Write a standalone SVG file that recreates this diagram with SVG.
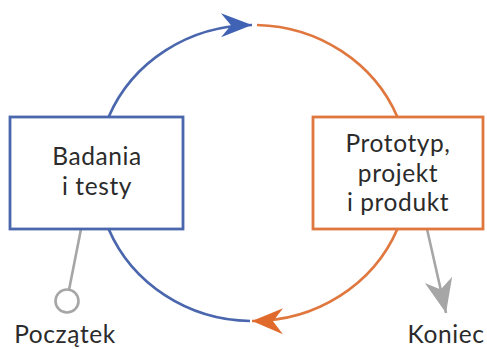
<svg xmlns="http://www.w3.org/2000/svg" width="487" height="349" viewBox="0 0 487 349">
  <style>
    .lbl { font-family: Lato, "Open Sans", "Liberation Sans", sans-serif; font-size: 24.5px; letter-spacing: 0.6px; fill: #2b2b2b; text-anchor: middle; }
    .blue { stroke: #4a66ad; }
    .orange { stroke: #df773f; }
    .arc { fill: none; stroke-width: 2.7; }
    .grey { stroke: #a6a6a6; stroke-width: 2.6; fill: none; }
    .box { fill: #ffffff; stroke-width: 2.8; }
  </style>
  <defs>
    <marker id="arrowBlue" viewBox="-32 -14 34 28" refX="0" refY="0" markerWidth="34" markerHeight="28" markerUnits="userSpaceOnUse" orient="auto">
      <path d="M0,0 L-31,-12 L-21,0 L-31,12 Z" fill="#3f62b4"/>
    </marker>
    <marker id="arrowOrange" viewBox="-32 -14 34 28" refX="0" refY="0" markerWidth="34" markerHeight="28" markerUnits="userSpaceOnUse" orient="auto">
      <path d="M0,0 L-31,-13 L-21,0 L-31,13 Z" fill="#e06a2c"/>
    </marker>
    <marker id="arrowGrey" viewBox="-36 -16 38 32" refX="0" refY="0" markerWidth="38" markerHeight="32" markerUnits="userSpaceOnUse" orient="auto">
      <path d="M0,0 L-34,-14 L-24,0 L-34,14 Z" fill="#a6a6a6"/>
    </marker>
  </defs>

  <!-- connectors: cycle arcs, start stem and exit arrow -->
  <g id="connectors">
    <path class="arc blue" d="M108.6,117 A156,148 0 0,1 252,25" marker-end="url(#arrowBlue)"/>
    <path class="arc orange" d="M257,25 A156,148 0 0,1 397.4,117"/>
    <path class="arc orange" d="M397.4,229 A156,148 0 0,1 252,321" marker-end="url(#arrowOrange)"/>
    <path class="arc blue" d="M250,321 A156,148 0 0,1 108.6,229"/>
    <line class="grey" x1="81" y1="229" x2="69" y2="290"/>
    <circle class="grey" cx="67" cy="301" r="11.5"/>
    <line class="grey" x1="427" y1="229" x2="446" y2="313" marker-end="url(#arrowGrey)"/>
  </g>

  <g id="research">
    <rect class="box blue" x="10" y="117" width="173" height="112"/>
    <text class="lbl" x="97" y="165">Badania</text>
    <text class="lbl" x="97" y="195">i testy</text>
  </g>

  <g id="prototype">
    <rect class="box orange" x="313" y="117" width="170" height="112"/>
    <text class="lbl" x="398" y="152">Prototyp,</text>
    <text class="lbl" x="398" y="181.5">projekt</text>
    <text class="lbl" x="398" y="211">i produkt</text>
  </g>

  <g id="start">
    <text class="lbl" x="65" y="343">Początek</text>
  </g>

  <g id="end">
    <text class="lbl" x="446" y="343">Koniec</text>
  </g>
</svg>
